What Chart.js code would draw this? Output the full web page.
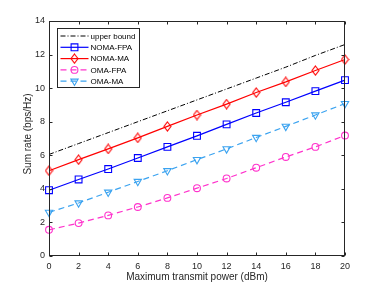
<!DOCTYPE html>
<html lang="en">
<head>
<meta charset="UTF-8">
<title>Sum rate vs transmit power</title>
<script src="https://cdn.jsdelivr.net/npm/chart.js"></script>
<style>
  html, body { margin: 0; padding: 0; background: #fff; }
</style>
</head>
<body>
<canvas id="myChart" width="382" height="287"></canvas>
<script>
// values
const power = [0, 2, 4, 6, 8, 10, 12, 14, 16, 18, 20];
const upperBound = [6.05, 6.7, 7.35, 8.0, 8.65, 9.3, 9.95, 10.6, 11.25, 11.95, 12.6];
const nomaFPA = [3.92, 4.56, 5.18, 5.84, 6.5, 7.16, 7.84, 8.52, 9.16, 9.82, 10.48];
const nomaMA = [5.08, 5.74, 6.38, 7.04, 7.72, 8.4, 9.05, 9.74, 10.37, 11.05, 11.71];
const omaFPA = [1.56, 1.96, 2.42, 2.92, 3.46, 4.04, 4.62, 5.26, 5.9, 6.5, 7.18];
const omaMA = [2.6, 3.16, 3.8, 4.44, 5.08, 5.74, 6.38, 7.06, 7.72, 8.4, 9.08];
const xTicks = [0, 2, 4, 6, 8, 10, 12, 14, 16, 18, 20];
const yTicks = [0, 2, 4, 6, 8, 10, 12, 14];
const xTitle = 'Maximum transmit power (dBm)';
const yTitle = 'Sum rate (bps/Hz)';

const FONT = '"Liberation Sans", Arial, Helvetica, sans-serif';
const AXIS = '#262626';

const pts = (ys) => ys.map((v, i) => ({ x: power[i], y: v }));

// narrow diamond like matlab's 'd' marker
function diamond(color) {
  const c = document.createElement('canvas');
  c.width = 9; c.height = 11;
  const g = c.getContext('2d');
  g.strokeStyle = color;
  g.lineWidth = 1.1;
  g.beginPath();
  g.moveTo(4.5, 1); g.lineTo(8, 5.5); g.lineTo(4.5, 10); g.lineTo(1, 5.5);
  g.closePath();
  g.stroke();
  return c;
}

const data = {
  datasets: [
    { label: 'upper bound', data: pts(upperBound), borderColor: '#000000', borderWidth: 1,
      borderDash: [5, 2, 1, 2], pointRadius: 0, pointStyle: false },
    { label: 'NOMA-FPA', data: pts(nomaFPA), borderColor: '#0000ff', borderWidth: 1.2,
      pointStyle: 'rect', pointRadius: 4.8 },
    { label: 'NOMA-MA', data: pts(nomaMA), borderColor: '#ff0000', borderWidth: 1.2,
      pointStyle: diamond('#ff0000'), pointRadius: 4.5 },
    { label: 'OMA-FPA', data: pts(omaFPA), borderColor: '#ff33cc', borderWidth: 1.2,
      borderDash: [6, 4], pointStyle: 'circle', pointRadius: 3.4 },
    { label: 'OMA-MA', data: pts(omaMA), borderColor: '#3ba3f0', borderWidth: 1.2,
      borderDash: [6, 4], pointStyle: 'triangle', pointRotation: 180, pointRadius: 4.2 }
  ]
};
data.datasets.forEach(ds => {
  ds.pointBorderColor = ds.borderColor;
  ds.pointBackgroundColor = 'rgba(0,0,0,0)';
  ds.pointBorderWidth = 1.1;
  ds.tension = 0;
  ds.clip = false;
});

// box around the axes with inward ticks on all four sides, plus axis titles
const axesBox = {
  id: 'axesBox',
  afterDatasetsDraw(chart) {
    const ctx = chart.ctx, a = chart.chartArea;
    const sx = chart.scales.x, sy = chart.scales.y;
    const L = Math.round(a.left) + 0.5, R = Math.round(a.right) - 0.5;
    const T = Math.round(a.top) + 0.5, B = Math.round(a.bottom) - 0.5;
    ctx.save();
    ctx.strokeStyle = AXIS;
    ctx.lineWidth = 1;
    ctx.strokeRect(L, T, R - L, B - T);
    ctx.beginPath();
    xTicks.forEach(v => {
      const px = Math.round(sx.getPixelForValue(v)) + 0.5;
      ctx.moveTo(px, B); ctx.lineTo(px, B - 3);
      ctx.moveTo(px, T); ctx.lineTo(px, T + 3);
    });
    yTicks.forEach(v => {
      const py = Math.round(sy.getPixelForValue(v)) + 0.5;
      ctx.moveTo(L, py); ctx.lineTo(L + 3, py);
      ctx.moveTo(R, py); ctx.lineTo(R - 3, py);
    });
    ctx.stroke();

    ctx.fillStyle = AXIS;
    ctx.font = '10px ' + FONT;
    ctx.textAlign = 'center';
    ctx.textBaseline = 'middle';
    ctx.fillText(xTitle, (a.left + a.right) / 2, 277);
    ctx.translate(28, 134);
    ctx.rotate(-Math.PI / 2);
    ctx.fillText(yTitle, 0, 0);
    ctx.restore();
  }
};

// matlab-like legend in the upper left corner
function marker(ctx, ds, x, y) {
  if (ds.pointStyle instanceof HTMLCanvasElement) {
    ctx.drawImage(ds.pointStyle, x - ds.pointStyle.width / 2, y - ds.pointStyle.height / 2);
  } else if (Chart.helpers && Chart.helpers.drawPoint) {
    Chart.helpers.drawPoint(ctx, {
      pointStyle: ds.pointStyle, radius: ds.pointRadius,
      rotation: ds.pointRotation || 0, borderWidth: ds.pointBorderWidth
    }, x, y);
  }
}

const legendBox = {
  id: 'legendBox',
  afterDraw(chart) {
    const ctx = chart.ctx, a = chart.chartArea;
    const x0 = Math.round(a.left) + 8.5, y0 = Math.round(a.top) + 7.5, w = 82, h = 59;
    ctx.save();
    ctx.fillStyle = '#ffffff';
    ctx.fillRect(x0, y0, w, h);
    ctx.strokeStyle = AXIS;
    ctx.lineWidth = 1;
    ctx.strokeRect(x0, y0, w, h);
    chart.data.datasets.forEach((ds, i) => {
      const y = y0 + 7.5 + i * 11.3;
      ctx.strokeStyle = ds.borderColor;
      ctx.lineWidth = ds.borderWidth;
      ctx.setLineDash(ds.borderDash || []);
      ctx.beginPath();
      ctx.moveTo(x0 + 3, y);
      ctx.lineTo(x0 + 31, y);
      ctx.stroke();
      ctx.setLineDash([]);
      if (ds.pointRadius > 0) {
        ctx.fillStyle = 'rgba(0,0,0,0)';
        ctx.lineWidth = ds.pointBorderWidth;
        marker(ctx, ds, x0 + 17, y);
      }
      ctx.fillStyle = '#000000';
      ctx.font = '8px ' + FONT;
      ctx.textBaseline = 'middle';
      ctx.textAlign = 'left';
      ctx.fillText(ds.label, x0 + 33, y + 0.5);
    });
    ctx.restore();
  }
};

const config = {
  type: 'line',
  data: data,
  options: {
    responsive: false,
    animation: false,
    devicePixelRatio: 1,
    layout: { padding: { top: 21, right: 37, left: 0, bottom: 0 } },
    plugins: { legend: { display: false }, tooltip: { enabled: false } },
    scales: {
      x: {
        type: 'linear', min: 0, max: 20,
        afterBuildTicks: s => { s.ticks = xTicks.map(v => ({ value: v })); },
        afterFit: s => { s.height = 31; },
        grid: { display: false, drawTicks: false },
        border: { display: false },
        ticks: { autoSkip: false, maxRotation: 0, padding: 5, color: AXIS,
                 font: { family: FONT, size: 9 } }
      },
      y: {
        type: 'linear', min: 0, max: 14,
        afterBuildTicks: s => { s.ticks = yTicks.map(v => ({ value: v })); },
        afterFit: s => { s.width = 49; },
        grid: { display: false, drawTicks: false },
        border: { display: false },
        ticks: { autoSkip: false, padding: 4, color: AXIS,
                 font: { family: FONT, size: 9 } }
      }
    }
  },
  plugins: [axesBox, legendBox]
};

const myChart = new Chart(document.getElementById('myChart'), config);
</script>
</body>
</html>
